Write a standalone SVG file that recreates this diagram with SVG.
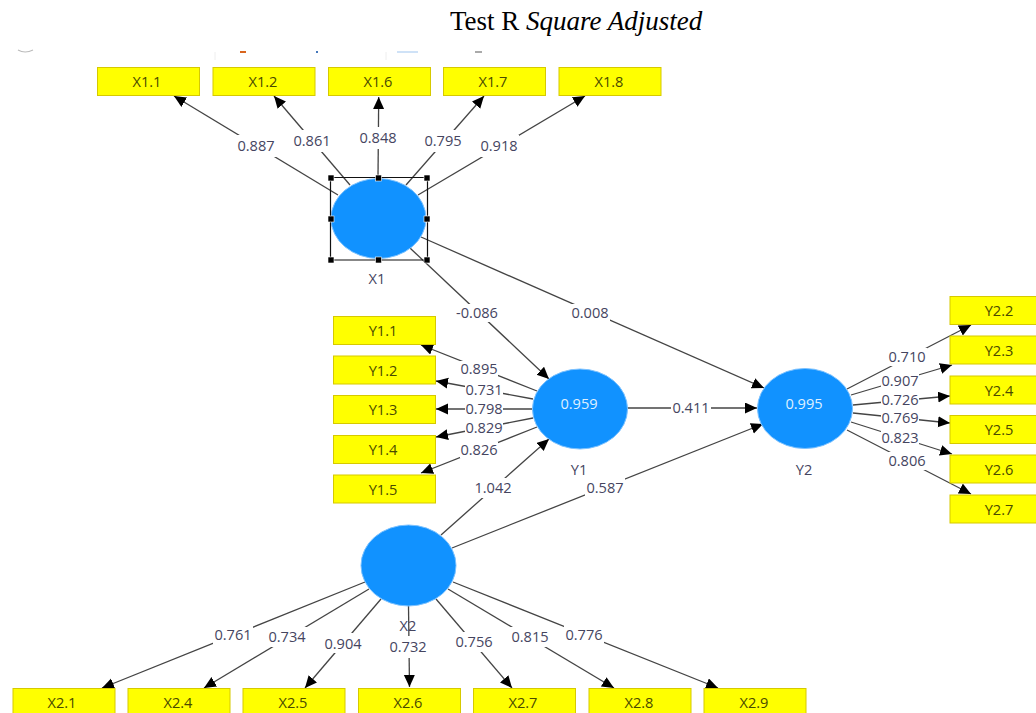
<svg xmlns="http://www.w3.org/2000/svg" width="1036" height="713" viewBox="0 0 1036 713">
<style>
.l{stroke:#444;stroke-width:1.3;fill:none;marker-end:url(#a)}
.b{fill:#ffff00;stroke:#d6c900;stroke-width:1}
.c{fill:#1192ff;stroke:#7cc2ff;stroke-width:1}
text{font-family:"Open Sans","Noto Sans","Liberation Sans",sans-serif;font-size:14.6px;text-anchor:middle}
.t{fill:#4a4a00}
.n{fill:#45455f}
.w{fill:#dff0ff}
.g{fill:#fff}
.h{fill:#000;stroke:#fff;stroke-width:.6}
</style>
<defs>
<marker id="a" markerUnits="userSpaceOnUse" markerWidth="13" markerHeight="12" refX="12" refY="5.5" orient="auto"><path d="M0 0L12 5.5L0 11z" fill="#000"/></marker>
</defs>
<rect width="1036" height="713" fill="#fff"/>
<text x="450" y="30" style="font-family:'Liberation Serif',serif;font-size:27px;text-anchor:start;fill:#000">Test R <tspan font-style="italic">Square Adjusted</tspan></text>
<g id="residue">
<path d="M18 50Q25 54 33 50" fill="none" stroke="#bbb" stroke-width="1.2"/>
<rect x="240" y="51" width="6" height="2" fill="#d9651e"/>
<rect x="316" y="51" width="2" height="2" fill="#4477bb"/>
<rect x="397" y="51" width="21" height="2" fill="#cfe2f7"/>
<rect x="475" y="51" width="7" height="2" fill="#aaa"/>
<path d="M215 52V60M386 52V60" stroke="#eee"/>
</g>
<g id="connectors">
<path class="l" d="M338 195L174 96"/><path class="l" d="M350 185L274 96"/><path class="l" d="M378 178L378.7 97"/><path class="l" d="M406 185L484 96"/><path class="l" d="M418 195L585 96"/>
<path class="l" d="M410 248L549 379"/><path class="l" d="M421 237L764 388"/><path class="l" d="M627 408L757 408"/><path class="l" d="M441 535L549 439"/><path class="l" d="M452 548L763 424"/>
<path class="l" d="M537 391L421 345"/><path class="l" d="M533 399L436 381"/><path class="l" d="M532 409L436 409"/><path class="l" d="M533 418L436 437"/><path class="l" d="M537 427L421 473"/>
<path class="l" d="M847 389L971 325"/><path class="l" d="M851 395L952 365"/><path class="l" d="M853 405L950 396"/><path class="l" d="M853 413L950 423"/><path class="l" d="M851 422L952 454"/><path class="l" d="M847 430L971 494"/>
<path class="l" d="M365 582L102 688"/><path class="l" d="M369 589L204 688"/><path class="l" d="M381 599L305 688"/><path class="l" d="M408.5 606L409.5 687"/><path class="l" d="M436 599L512 688"/><path class="l" d="M448 589L614 688"/><path class="l" d="M453 582L718 688"/>
</g>
<g id="labels">
<g class="g"><rect x="237" y="135" width="40" height="22"/><rect x="293" y="130" width="40" height="22"/><rect x="358" y="127" width="40" height="22"/><rect x="423" y="130" width="40" height="22"/><rect x="479" y="135" width="40" height="22"/>
<rect x="455" y="304" width="45" height="18"/><rect x="570" y="304" width="40" height="18"/><rect x="671" y="399" width="40" height="18"/><rect x="473" y="478" width="40" height="20"/><rect x="585" y="478" width="40" height="20"/>
<rect x="460" y="361" width="38" height="16"/><rect x="465" y="382" width="38" height="16"/><rect x="465" y="401" width="38" height="16"/><rect x="465" y="420" width="38" height="16"/><rect x="460" y="442" width="38" height="16"/>
<rect x="887" y="348" width="40" height="18"/><rect x="881" y="372" width="38" height="16"/><rect x="881" y="392" width="38" height="16"/><rect x="881" y="410" width="38" height="16"/><rect x="881" y="430" width="38" height="16"/><rect x="887" y="452" width="40" height="18"/>
<rect x="213" y="625" width="40" height="20"/><rect x="267" y="627" width="40" height="20"/><rect x="323" y="633" width="40" height="20"/><rect x="388" y="636" width="40" height="22"/><rect x="454" y="632" width="40" height="20"/><rect x="510" y="627" width="40" height="20"/><rect x="564" y="625" width="40" height="20"/></g>
<g class="n">
<text x="256" y="151">0.887</text><text x="312" y="146">0.861</text><text x="378" y="143">0.848</text><text x="443" y="146">0.795</text><text x="499" y="151">0.918</text>
<text x="477" y="318">-0.086</text><text x="590" y="318">0.008</text><text x="691" y="413">0.411</text><text x="493" y="493">1.042</text><text x="605" y="493">0.587</text>
<text x="479" y="374">0.895</text><text x="484" y="395">0.731</text><text x="484" y="414">0.798</text><text x="484" y="433">0.829</text><text x="479" y="455">0.826</text>
<text x="907" y="362">0.710</text><text x="900" y="386">0.907</text><text x="900" y="405">0.726</text><text x="900" y="423">0.769</text><text x="900" y="443">0.823</text><text x="907" y="466">0.806</text>
<text x="233" y="640">0.761</text><text x="287" y="642">0.734</text><text x="343" y="649">0.904</text><text x="408" y="652">0.732</text><text x="474" y="647">0.756</text><text x="530" y="642">0.815</text><text x="584" y="640">0.776</text>
</g>
</g>
<g id="X1"><ellipse class="c" cx="378.5" cy="218.5" rx="47.5" ry="40"/><path d="M330.5 177.5H427.5V260H330.5Z" fill="none" stroke="#111" stroke-width="1.2"/>
<rect class="h" x="328" y="175" width="6" height="6"/><rect class="h" x="375.5" y="175" width="6" height="6"/><rect class="h" x="424" y="175" width="6" height="6"/><rect class="h" x="328" y="216" width="6" height="6"/><rect class="h" x="424" y="216" width="6" height="6"/><rect class="h" x="328" y="257" width="6" height="6"/><rect class="h" x="375.5" y="257" width="6" height="6"/><rect class="h" x="424" y="257" width="6" height="6"/>
<text class="n" x="377" y="284">X1</text></g>
<g id="Y1"><ellipse class="c" cx="580" cy="409" rx="47.5" ry="40"/><text class="w" x="579" y="409">0.959</text><text class="n" x="579" y="475">Y1</text></g>
<g id="Y2"><ellipse class="c" cx="805" cy="408.5" rx="47.5" ry="40"/><text class="w" x="804" y="409">0.995</text><text class="n" x="804" y="475">Y2</text></g>
<g id="X2"><ellipse class="c" cx="408.5" cy="565.5" rx="47.5" ry="40.5"/><text class="n" x="408" y="631">X2</text></g>
<g id="ind-X1.1"><rect class="b" x="97.5" y="67.5" width="102" height="28"/><text class="t" x="147" y="87">X1.1</text></g>
<g id="ind-X1.2"><rect class="b" x="213" y="67.5" width="102" height="28"/><text class="t" x="263" y="87">X1.2</text></g>
<g id="ind-X1.6"><rect class="b" x="328.5" y="67.5" width="102" height="28"/><text class="t" x="378" y="87">X1.6</text></g>
<g id="ind-X1.7"><rect class="b" x="443.5" y="67.5" width="102" height="28"/><text class="t" x="493" y="87">X1.7</text></g>
<g id="ind-X1.8"><rect class="b" x="559" y="67.5" width="102" height="28"/><text class="t" x="609" y="87">X1.8</text></g>
<g id="ind-Y1.1"><rect class="b" x="333.5" y="316.5" width="102" height="28"/><text class="t" x="383" y="336">Y1.1</text></g>
<g id="ind-Y1.2"><rect class="b" x="333.5" y="356" width="102" height="28"/><text class="t" x="383" y="375.5">Y1.2</text></g>
<g id="ind-Y1.3"><rect class="b" x="333.5" y="395.5" width="102" height="28"/><text class="t" x="383" y="415">Y1.3</text></g>
<g id="ind-Y1.4"><rect class="b" x="333.5" y="435.5" width="102" height="28"/><text class="t" x="383" y="455">Y1.4</text></g>
<g id="ind-Y1.5"><rect class="b" x="333.5" y="475" width="102" height="28"/><text class="t" x="383" y="494.5">Y1.5</text></g>
<g id="ind-Y2.2"><rect class="b" x="950" y="296.5" width="102" height="28"/><text class="t" x="999" y="316">Y2.2</text></g>
<g id="ind-Y2.3"><rect class="b" x="950" y="336" width="102" height="28"/><text class="t" x="999" y="355.5">Y2.3</text></g>
<g id="ind-Y2.4"><rect class="b" x="950" y="376" width="102" height="28"/><text class="t" x="999" y="395.5">Y2.4</text></g>
<g id="ind-Y2.5"><rect class="b" x="950" y="415.5" width="102" height="28"/><text class="t" x="999" y="435">Y2.5</text></g>
<g id="ind-Y2.6"><rect class="b" x="950" y="455" width="102" height="28"/><text class="t" x="999" y="474.5">Y2.6</text></g>
<g id="ind-Y2.7"><rect class="b" x="950" y="495" width="102" height="28"/><text class="t" x="999" y="514.5">Y2.7</text></g>
<g id="ind-X2.1"><rect class="b" x="13" y="688.5" width="102" height="28"/><text class="t" x="62" y="708">X2.1</text></g>
<g id="ind-X2.4"><rect class="b" x="128" y="688.5" width="102" height="28"/><text class="t" x="178" y="708">X2.4</text></g>
<g id="ind-X2.5"><rect class="b" x="243" y="688.5" width="102" height="28"/><text class="t" x="293" y="708">X2.5</text></g>
<g id="ind-X2.6"><rect class="b" x="358.5" y="688.5" width="102" height="28"/><text class="t" x="408" y="708">X2.6</text></g>
<g id="ind-X2.7"><rect class="b" x="473.5" y="688.5" width="102" height="28"/><text class="t" x="523" y="708">X2.7</text></g>
<g id="ind-X2.8"><rect class="b" x="589" y="688.5" width="102" height="28"/><text class="t" x="639" y="708">X2.8</text></g>
<g id="ind-X2.9"><rect class="b" x="704" y="688.5" width="102" height="28"/><text class="t" x="754" y="708">X2.9</text></g>
</svg>
